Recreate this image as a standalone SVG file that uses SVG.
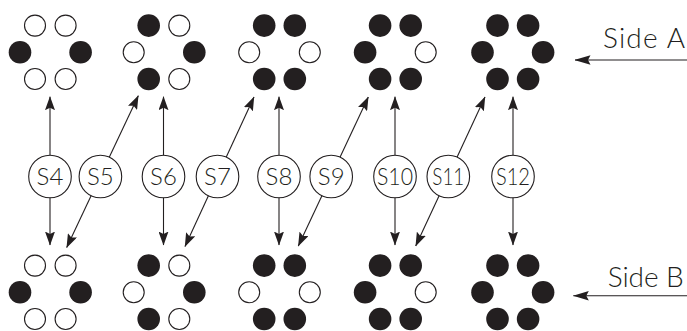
<svg xmlns="http://www.w3.org/2000/svg" width="687" height="331" viewBox="0 0 687 331">
<defs>
<style>
.o{fill:#fff;stroke:#231f20;stroke-width:1.1}
.f{fill:#231f20}
.c{stroke:#231f20;stroke-width:1.1;fill:none}
.lc{fill:#fff;stroke:#231f20;stroke-width:1.1}
.lt{font-family:Lato,"Liberation Sans",sans-serif;font-weight:300;font-size:24px;fill:#231f20;text-anchor:middle}
.st{font-family:Lato,"Liberation Sans",sans-serif;font-weight:300;font-size:28px;fill:#231f20}
</style>
<marker id="ah" markerUnits="userSpaceOnUse" markerWidth="14" markerHeight="10" refX="13.5" refY="5" orient="auto" viewBox="0 0 14 10">
<path d="M0,0 L14,5 L0,10 L2.5,5 z" fill="#231f20"/>
</marker>
<marker id="sh" markerUnits="userSpaceOnUse" markerWidth="16" markerHeight="10" refX="15.5" refY="5" orient="auto" viewBox="0 0 16 10">
<path d="M0,0.3 L16,5 L0,9.7 L2.5,5 z" fill="#231f20"/>
</marker>
<g id="p1"><circle class="o" cx="-15.3" cy="-26.7" r="10.5"/><circle class="o" cx="15.3" cy="-26.7" r="10.5"/><circle class="f" cx="-30.3" cy="0" r="11.3"/><circle class="f" cx="30.3" cy="0" r="11.3"/><circle class="o" cx="-15.3" cy="26.7" r="10.5"/><circle class="o" cx="15.3" cy="26.7" r="10.5"/></g>
<g id="p2"><circle class="f" cx="-15.3" cy="-26.7" r="11.3"/><circle class="o" cx="15.3" cy="-26.7" r="10.5"/><circle class="o" cx="-30.3" cy="0" r="10.5"/><circle class="f" cx="30.3" cy="0" r="11.3"/><circle class="f" cx="-15.3" cy="26.7" r="11.3"/><circle class="o" cx="15.3" cy="26.7" r="10.5"/></g>
<g id="p3"><circle class="f" cx="-15.3" cy="-26.7" r="11.3"/><circle class="f" cx="15.3" cy="-26.7" r="11.3"/><circle class="o" cx="-30.3" cy="0" r="10.5"/><circle class="o" cx="30.3" cy="0" r="10.5"/><circle class="f" cx="-15.3" cy="26.7" r="11.3"/><circle class="f" cx="15.3" cy="26.7" r="11.3"/></g>
<g id="p4"><circle class="f" cx="-15.3" cy="-26.7" r="11.3"/><circle class="f" cx="15.3" cy="-26.7" r="11.3"/><circle class="f" cx="-30.3" cy="0" r="11.3"/><circle class="o" cx="30.3" cy="0" r="10.5"/><circle class="f" cx="-15.3" cy="26.7" r="11.3"/><circle class="f" cx="15.3" cy="26.7" r="11.3"/></g>
<g id="p5"><circle class="f" cx="-15.3" cy="-26.7" r="11.3"/><circle class="f" cx="15.3" cy="-26.7" r="11.3"/><circle class="f" cx="-30.3" cy="0" r="11.3"/><circle class="f" cx="30.3" cy="0" r="11.3"/><circle class="f" cx="-15.3" cy="26.7" r="11.3"/><circle class="f" cx="15.3" cy="26.7" r="11.3"/></g>
</defs>
<rect width="687" height="331" fill="#fff"/>

<g id="sideA-1"><use href="#p1" x="50.3" y="52.3"/></g>
<g id="sideA-2"><use href="#p2" x="164" y="52.3"/></g>
<g id="sideA-3"><use href="#p3" x="279.5" y="52.3"/></g>
<g id="sideA-4"><use href="#p4" x="395.4" y="52.3"/></g>
<g id="sideA-5"><use href="#p5" x="512.8" y="52.3"/></g>

<g id="sideB-1"><use href="#p1" x="50.3" y="292.3"/></g>
<g id="sideB-2"><use href="#p2" x="164" y="292.3"/></g>
<g id="sideB-3"><use href="#p3" x="279.5" y="292.3"/></g>
<g id="sideB-4"><use href="#p4" x="395.4" y="292.3"/></g>
<g id="sideB-5"><use href="#p5" x="512.8" y="292.3"/></g>

<g id="connectors">
<line class="c" x1="50" y1="176" x2="50" y2="96.7" marker-end="url(#ah)"/>
<line class="c" x1="50" y1="176" x2="50" y2="245" marker-end="url(#ah)"/>
<line class="c" x1="163.5" y1="176" x2="163.5" y2="96.7" marker-end="url(#ah)"/>
<line class="c" x1="163.5" y1="176" x2="163.5" y2="245" marker-end="url(#ah)"/>
<line class="c" x1="279" y1="176" x2="279" y2="96.7" marker-end="url(#ah)"/>
<line class="c" x1="279" y1="176" x2="279" y2="245" marker-end="url(#ah)"/>
<line class="c" x1="395" y1="176" x2="395" y2="96.7" marker-end="url(#ah)"/>
<line class="c" x1="395" y1="176" x2="395" y2="245" marker-end="url(#ah)"/>
<line class="c" x1="513" y1="176" x2="513" y2="96.7" marker-end="url(#ah)"/>
<line class="c" x1="513" y1="176" x2="513" y2="245" marker-end="url(#ah)"/>
<line class="c" x1="100.4" y1="176" x2="138.3" y2="95.7" marker-end="url(#ah)"/>
<line class="c" x1="100.4" y1="176" x2="66.7" y2="247.5" marker-end="url(#ah)"/>
<line class="c" x1="217.5" y1="176" x2="254" y2="97" marker-end="url(#ah)"/>
<line class="c" x1="217.5" y1="176" x2="185" y2="246.5" marker-end="url(#ah)"/>
<line class="c" x1="331.2" y1="176" x2="368.3" y2="97" marker-end="url(#ah)"/>
<line class="c" x1="331.2" y1="176" x2="298.3" y2="246" marker-end="url(#ah)"/>
<line class="c" x1="448.3" y1="176" x2="485" y2="97" marker-end="url(#ah)"/>
<line class="c" x1="448.3" y1="176" x2="415.7" y2="246" marker-end="url(#ah)"/>
<line class="c" x1="687" y1="60" x2="575" y2="60" marker-end="url(#sh)"/>
<line class="c" x1="687" y1="295.7" x2="573.3" y2="295.7" marker-end="url(#sh)"/>
</g>

<g id="S4"><circle class="lc" cx="50" cy="176.5" r="21.3"/><text class="lt" x="50" y="185">S4</text></g>
<g id="S5"><circle class="lc" cx="100.4" cy="176.5" r="21.3"/><text class="lt" x="100.4" y="185">S5</text></g>
<g id="S6"><circle class="lc" cx="163.5" cy="176.5" r="21.3"/><text class="lt" x="163.5" y="185">S6</text></g>
<g id="S7"><circle class="lc" cx="217.5" cy="176.5" r="21.3"/><text class="lt" x="217.5" y="185">S7</text></g>
<g id="S8"><circle class="lc" cx="279" cy="176.5" r="21.3"/><text class="lt" x="279" y="185">S8</text></g>
<g id="S9"><circle class="lc" cx="331.2" cy="176.5" r="21.3"/><text class="lt" x="331.2" y="185">S9</text></g>
<g id="S10"><circle class="lc" cx="395" cy="176.5" r="21.3"/><text class="lt" x="395" y="185" textLength="36" lengthAdjust="spacingAndGlyphs">S10</text></g>
<g id="S11"><circle class="lc" cx="448.3" cy="176.5" r="21.3"/><text class="lt" x="448.3" y="185" textLength="32" lengthAdjust="spacingAndGlyphs">S11</text></g>
<g id="S12"><circle class="lc" cx="513" cy="176.5" r="21.3"/><text class="lt" x="513" y="185" textLength="34" lengthAdjust="spacingAndGlyphs">S12</text></g>

<g id="label-sideA"><text class="st" x="603" y="48" textLength="82" lengthAdjust="spacing">Side A</text></g>
<g id="label-sideB"><text class="st" x="607.7" y="287.3" textLength="76" lengthAdjust="spacing">Side B</text></g>
</svg>
